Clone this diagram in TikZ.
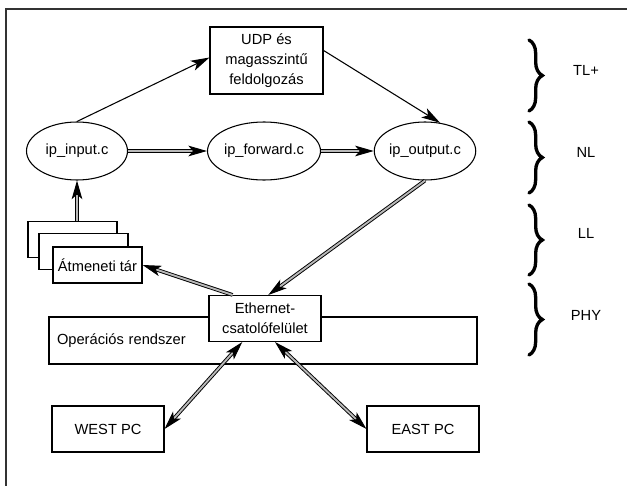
\documentclass[tikz,border=0pt]{standalone}
\usepackage{fontspec}
\setmainfont{Liberation Sans}
\usetikzlibrary{
    positioning,
    shapes.geometric,
    arrows.meta,
    decorations.pathreplacing
    }

\begin{document}
\begin{tikzpicture}[x=0.75pt, y=-0.75pt]
\tikzset{box/.style =
        {
            rectangle,
            draw,
            line width=0.8pt,
            fill=white,
            inner sep=0pt,
            align=center,
            font=\fontsize{11}{15}\selectfont
        }
}

\tikzset{module/.style =
        {
            box,
            ellipse,
            minimum width=75.75pt,
            minimum height=43.5pt
        }
}

\tikzset{pcbox/.style = { box, minimum width=84pt, minimum height=34.5pt } }

\tikzset{bufbox/.style = { box, minimum width=66.75pt, minimum height=27pt } }

\tikzset{call/.style = {
            line width=0.8pt,
            -{Stealth[length=14pt, width=8pt, inset=3.5pt]}
        }
}

\tikzset{flow/.style = {
            line width=0.7pt,
            double=gray!55,
            double distance=1.4pt,
            -{Stealth[length=14pt, width=8pt, inset=3.5pt]}
        }
}

\tikzset{both flow/.style = {
            flow,
            {Stealth[length=14pt, width=8pt, inset=3.5pt]}-{Stealth[length=14pt, width=8pt, inset=3.5pt]}
        }
}

\tikzset{layer/.style = {
            decorate,
            decoration={brace, amplitude=10pt},
            line width=2.5pt,
            line cap=round
        }
}

		\useasboundingbox (0,0) rectangle (627,485);
		\clip (0,0) rectangle (627,485);
		\draw[line width=0.9pt, black!80] (6,9) rectangle (640,500);

		\node[box, minimum width=84.75pt, minimum height=50.25pt] at (266.5,60.5) (udp) {UDP és\\magasszintű\\feldolgozás};

		\node[module] at (77,151) (in) {ip\_input.c};
		\node[module] at (264,151) (fwd) {ip\_forward.c};
		\node[module] at (425,151) (out) {ip\_output.c};

		\node[bufbox] at (72.5,239.5) (buf1) {};
		\node[bufbox] at (83.5,251.5) (buf2) {};
		\node[bufbox] at (97.5,265) (buf3) {Átmeneti tár};

		\node[box, minimum width=321pt, minimum height=35.25pt, text width=309pt, align=left] at (263,340.5) (os) {Operációs rendszer};
		\node[box, minimum width=84pt, minimum height=34.5pt] at (265,318.5) (eth) {Ethernet-\\csatolófelület};

		\node[pcbox] at (108,429) (west) {WEST PC};
		\node[pcbox] at (423,429) (east) {EAST PC};

		\draw [call] (in.north) -- (udp.177);
		\draw [call] (udp.10) -- (out.62);

		\foreach \start / \finish in
			{in/fwd,
				fwd/out}
			\draw [flow] (\start) -- (\finish);

		\draw [flow] (in.south |- buf1.north) -- (in.south);
		\draw [flow] (out.south) -- (eth.82);
		\draw [flow] (eth.144) -- (buf3.east);
		\draw [both flow] (eth.-134) -- (west.east);
		\draw [both flow] (eth.-67) -- (east.west);

		\foreach \lname / \top / \bot / \ly / \txt in
			{tl/40/111/70/TL+,
				nl/122/193/152/NL,
				ll/205/275/233/LL,
				phy/284/355/315/PHY}
			{
				\draw [layer] (529,\top) -- (529,\bot);
				\node[font=\fontsize{11}{13}\selectfont] at (586,\ly) (lbl-\lname) {\txt};
			}

	\end{tikzpicture}
\end{document}
